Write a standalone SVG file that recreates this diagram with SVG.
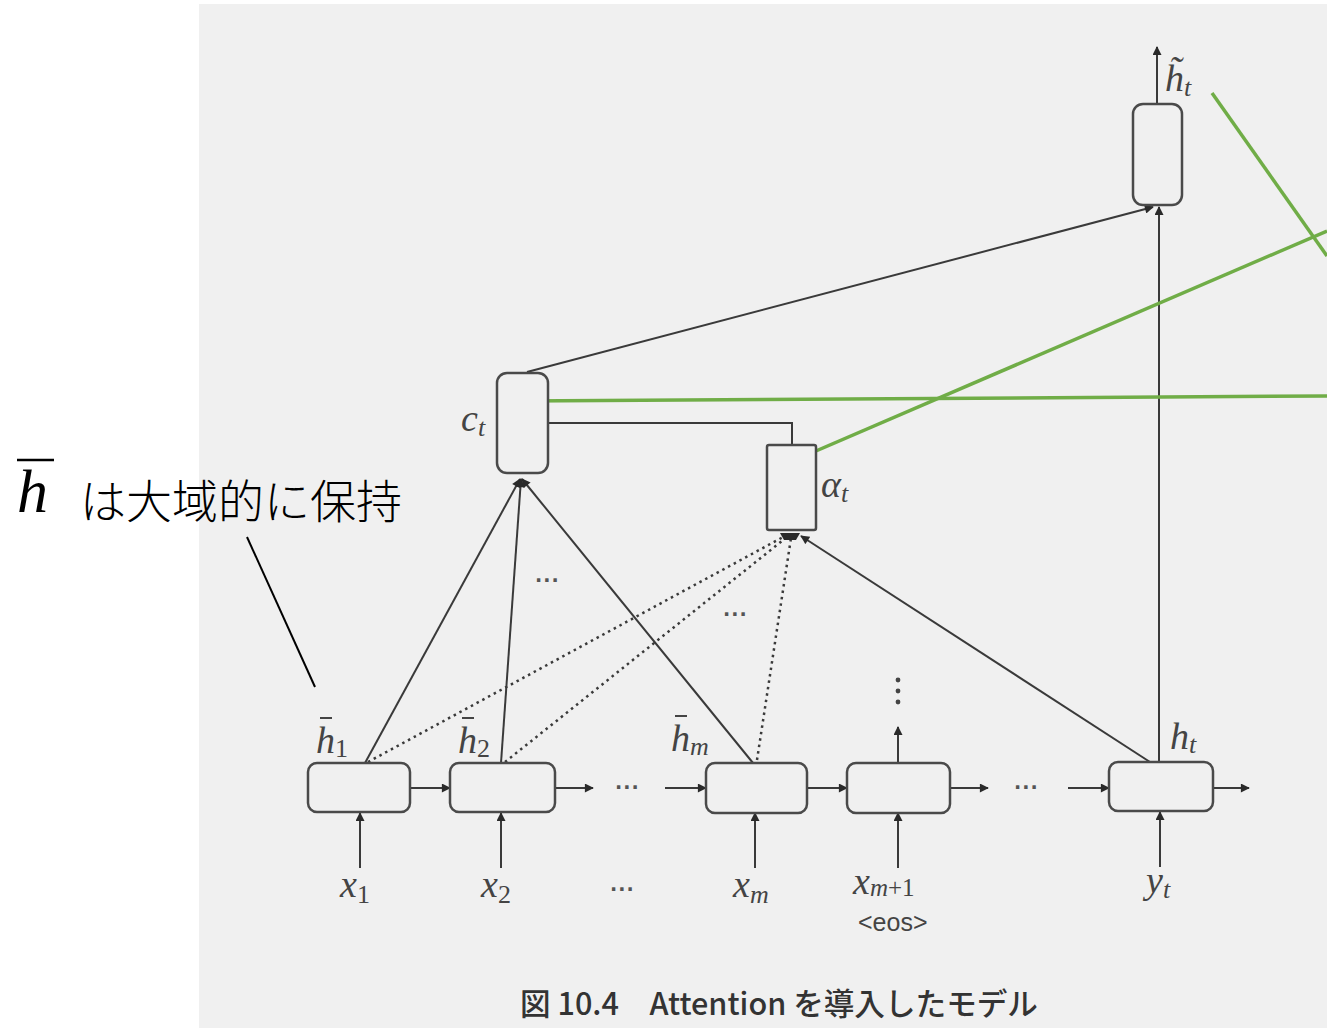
<svg xmlns="http://www.w3.org/2000/svg" width="1327" height="1028" viewBox="0 0 1327 1028">
<defs>
<style>
.ln{stroke:#3a3a3a;stroke-width:2;fill:none}
.dot{stroke:#3a3a3a;stroke-width:2.5;fill:none;stroke-dasharray:2.5 4}
.box{fill:#f0f0f0;stroke:#4a4a4a;stroke-width:2.5}
.m{font-family:"Liberation Serif",serif;font-style:italic;fill:#444;font-size:38px}
.s{font-size:26px}
.n{font-style:normal}
.el{font-family:"DejaVu Sans",sans-serif;font-weight:bold;fill:#555;font-size:19px;letter-spacing:1px}
.g{stroke:#70ad47;stroke-width:3.5;fill:none}
</style>
<marker id="ah" viewBox="0 0 10 10" refX="9" refY="5" markerWidth="11" markerHeight="9" markerUnits="userSpaceOnUse" orient="auto">
<path d="M0,0 L10,5 L0,10 z" fill="#2a2a2a"/>
</marker>
</defs>
<rect x="199" y="4" width="1128" height="1024" fill="#f0f0f0"/>

<g id="connectors">
<line class="ln" x1="410" y1="788" x2="450" y2="788" marker-end="url(#ah)"/>
<line class="ln" x1="555" y1="788" x2="593" y2="788" marker-end="url(#ah)"/>
<line class="ln" x1="665" y1="788" x2="706" y2="788" marker-end="url(#ah)"/>
<line class="ln" x1="807" y1="788" x2="847" y2="788" marker-end="url(#ah)"/>
<line class="ln" x1="950" y1="788" x2="988" y2="788" marker-end="url(#ah)"/>
<line class="ln" x1="1068" y1="788" x2="1109" y2="788" marker-end="url(#ah)"/>
<line class="ln" x1="1213" y1="788" x2="1249" y2="788" marker-end="url(#ah)"/>
<line class="ln" x1="360" y1="868" x2="360" y2="813" marker-end="url(#ah)"/>
<line class="ln" x1="501" y1="868" x2="501" y2="813" marker-end="url(#ah)"/>
<line class="ln" x1="755" y1="868" x2="755" y2="813" marker-end="url(#ah)"/>
<line class="ln" x1="898" y1="868" x2="898" y2="813" marker-end="url(#ah)"/>
<line class="ln" x1="1160" y1="867" x2="1160" y2="812" marker-end="url(#ah)"/>
<line class="ln" x1="898" y1="763" x2="898" y2="727" marker-end="url(#ah)"/>
<circle cx="898" cy="680" r="2.4" fill="#444"/>
<circle cx="898" cy="691" r="2.4" fill="#444"/>
<circle cx="898" cy="702" r="2.4" fill="#444"/>
<line class="ln" x1="365" y1="763" x2="520" y2="479" marker-end="url(#ah)"/>
<line class="ln" x1="501" y1="763" x2="521" y2="479" marker-end="url(#ah)"/>
<line class="ln" x1="753" y1="763" x2="522" y2="479" marker-end="url(#ah)"/>
<line class="dot" x1="368" y1="762" x2="785" y2="536"/>
<line class="dot" x1="505" y1="762" x2="787" y2="537"/>
<line class="dot" x1="757" y1="760" x2="791" y2="538"/>
<path d="M780,533 L800,533 L796,540 L784,540 z" fill="#2a2a2a"/>
<line class="ln" x1="1150" y1="762" x2="801" y2="536" marker-end="url(#ah)"/>
<polyline class="ln" points="548,423 792,423 792,445"/>
<line class="ln" x1="527" y1="372" x2="1153" y2="207" marker-end="url(#ah)"/>
<line class="ln" x1="1159" y1="762" x2="1159" y2="207" marker-end="url(#ah)"/>
<line class="ln" x1="1157" y1="104" x2="1157" y2="47" marker-end="url(#ah)"/>
<line x1="247" y1="537" x2="315" y2="687" stroke="#000" stroke-width="2"/>
<line class="g" x1="1212" y1="93" x2="1327" y2="256"/>
<line class="g" x1="802" y1="457" x2="1327" y2="231"/>
<line class="g" x1="521" y1="401" x2="1327" y2="396"/>
</g>

<g id="n-h1"><rect class="box" x="308" y="763" width="102" height="49" rx="9"/>
<text class="m" x="316" y="753">h<tspan class="s n" dy="4">1</tspan></text><line x1="320" y1="718" x2="332" y2="718" stroke="#444" stroke-width="2"/></g>
<g id="n-h2"><rect class="box" x="450" y="763" width="105" height="49" rx="9"/>
<text class="m" x="458" y="753">h<tspan class="s n" dy="4">2</tspan></text><line x1="462" y1="718" x2="474" y2="718" stroke="#444" stroke-width="2"/></g>
<g id="n-hm"><rect class="box" x="706" y="763" width="101" height="50" rx="9"/>
<text class="m" x="671" y="751">h<tspan class="s" dy="4">m</tspan></text><line x1="675" y1="716" x2="687" y2="716" stroke="#444" stroke-width="2"/></g>
<g id="n-hm1"><rect class="box" x="847" y="763" width="103" height="50" rx="9"/></g>
<g id="n-ht"><rect class="box" x="1109" y="762" width="104" height="49" rx="9"/>
<text class="m" x="1170" y="749">h<tspan class="s" dy="4">t</tspan></text></g>
<g id="n-ct"><rect class="box" x="497" y="373" width="51" height="100" rx="10"/>
<text class="m" x="461" y="431">c<tspan class="s" dy="5">t</tspan></text></g>
<g id="n-at"><rect class="box" x="767" y="445" width="49" height="85" rx="2"/>
<text class="m" x="821" y="497">α<tspan class="s" dy="5">t</tspan></text></g>
<g id="n-htilde"><rect class="box" x="1133" y="104" width="49" height="101" rx="10"/>
<text class="m" x="1165" y="91">h&#x0303;<tspan class="s" dy="5">t</tspan></text></g>

<g id="labels">
<text class="m" x="340" y="897">x<tspan class="s n" dy="6">1</tspan></text>
<text class="m" x="481" y="897">x<tspan class="s n" dy="6">2</tspan></text>
<text class="m" x="733" y="897">x<tspan class="s" dy="6">m</tspan></text>
<text class="m" x="853" y="894">x<tspan class="s" dy="2" style="font-size:25px">m<tspan class="n">+1</tspan></tspan></text>
<text x="858" y="931" font-family="Liberation Sans, sans-serif" font-size="25" fill="#444">&lt;eos&gt;</text>
<text class="m" x="1146" y="893">y<tspan class="s" dy="5">t</tspan></text>
<text class="el" x="615" y="794">···</text>
<text class="el" x="1014" y="794">···</text>
<text class="el" x="610" y="896">···</text>
<text class="el" x="535" y="587">···</text>
<text class="el" x="723" y="621">···</text>
</g>

<g id="caption">
<text x="520" y="1015" font-family="Noto Sans CJK JP, sans-serif" font-weight="500" font-size="30.6" fill="#333">図 10.4　Attention を導入したモデル</text>
</g>

<g id="annotation">
<text x="17" y="512" font-family="Liberation Serif, serif" font-style="italic" font-size="62" fill="#000">h</text>
<line x1="17" y1="460" x2="54" y2="460" stroke="#000" stroke-width="2.5"/>
<text x="80" y="518" font-family="Noto Sans CJK JP, sans-serif" font-weight="300" font-size="46" fill="#000">は大域的に保持</text>
</g>
</svg>
